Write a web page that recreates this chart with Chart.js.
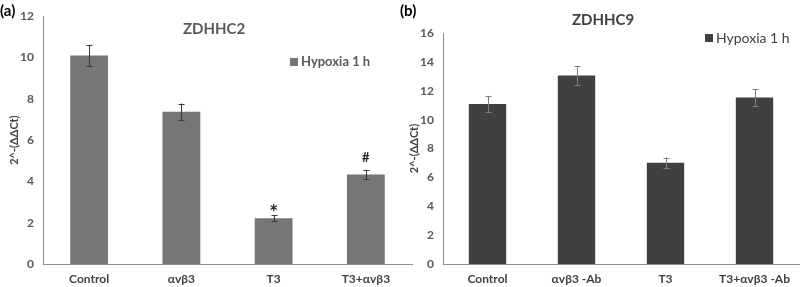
<!DOCTYPE html>
<html>
<head>
<meta charset="utf-8">
<script src="https://cdn.jsdelivr.net/npm/chart.js@4.4.1/dist/chart.umd.min.js"></script>
<style>
  html, body { margin: 0; padding: 0; background: #fff; }
  body { width: 800px; height: 287px; position: relative; overflow: hidden; }
  .panel { position: absolute; top: 0; height: 287px; }
  #wrapA { left: 0; width: 415px; }
  #wrapB { left: 400px; width: 400px; }
</style>
</head>
<body>
<div class="panel" id="wrapA"><canvas id="chartA"></canvas></div>
<div class="panel" id="wrapB"><canvas id="chartB"></canvas></div>
<script>
// Panel (a) data
const categoriesA = ['Control', 'αvβ3', 'T3', 'T3+αvβ3'];
const valuesA = [10.1, 7.37, 2.22, 4.33];
const errorsA = [0.52, 0.4, 0.14, 0.23];
const marksA = ['', '', '*', '#'];
const ticksA = [0, 2, 4, 6, 8, 10, 12];

// Panel (b) data
const categoriesB = ['Control', 'αvβ3 -Ab', 'T3', 'T3+αvβ3 -Ab'];
const valuesB = [11.08, 13.06, 7.01, 11.53];
const errorsB = [0.57, 0.66, 0.36, 0.6];
const marksB = ['', '', '', ''];
const ticksB = [0, 2, 4, 6, 8, 10, 12, 14, 16];

const FONT = 'Lato, "Open Sans", sans-serif';

// error bars, significance marks, title, legend and panel letter
const extrasPlugin = {
    id: 'extras',
    afterDatasetsDraw(chart, args, opts) {
        const ctx = chart.ctx;
        const yScale = chart.scales.y;
        const meta = chart.getDatasetMeta(0);
        const ds = chart.data.datasets[0];
        ctx.save();
        ctx.strokeStyle = opts.errColor;
        ctx.lineWidth = 1;
        meta.data.forEach((bar, i) => {
            const v = ds.data[i];
            const e = opts.errors[i];
            const top = yScale.getPixelForValue(v + e);
            const bot = yScale.getPixelForValue(v - e);
            const x = Math.round(bar.x) + 0.5;
            ctx.beginPath();
            ctx.moveTo(x, top);
            ctx.lineTo(x, bot);
            ctx.moveTo(x - 3, Math.round(top) + 0.5);
            ctx.lineTo(x + 3, Math.round(top) + 0.5);
            ctx.moveTo(x - 3, Math.round(bot) + 0.5);
            ctx.lineTo(x + 3, Math.round(bot) + 0.5);
            ctx.stroke();
            const m = opts.marks[i];
            if (m) {
                ctx.fillStyle = '#262626';
                ctx.font = (m === '*' ? 'bold 21px ' : 'bold 13px ') + FONT;
                ctx.textAlign = 'center';
                ctx.textBaseline = 'alphabetic';
                ctx.fillText(m, bar.x, top - (m === '*' ? -5 : 8));
            }
        });

        // title
        ctx.fillStyle = opts.titleColor;
        ctx.font = 'bold 15px ' + FONT;
        ctx.textAlign = 'center';
        ctx.textBaseline = 'middle';
        ctx.fillText(opts.title, opts.titleX, opts.titleY);

        // legend
        ctx.fillStyle = ds.backgroundColor;
        ctx.fillRect(opts.legX, opts.legY - 4, 8, 8);
        ctx.fillStyle = opts.legColor;
        ctx.font = opts.legFont;
        ctx.textAlign = 'left';
        ctx.fillText(ds.label, opts.legX + 11, opts.legY);

        // panel letter
        ctx.fillStyle = '#000';
        ctx.font = 'bold 15px ' + FONT;
        ctx.fillText(opts.letter, opts.letterX, 11);
        ctx.restore();
    }
};

function makeChart(id, cats, vals, ticks, color, maxY, pad, barPct, extras) {
    return new Chart(document.getElementById(id), {
        type: 'bar',
        data: {
            labels: cats,
            datasets: [{
                label: 'Hypoxia 1 h',
                data: vals,
                backgroundColor: color,
                borderWidth: 0,
                categoryPercentage: 1,
                barPercentage: barPct
            }]
        },
        options: {
            responsive: true,
            maintainAspectRatio: false,
            animation: false,
            layout: { padding: pad },
            plugins: {
                legend: { display: false },
                tooltip: { enabled: false },
                extras: extras
            },
            scales: {
                x: {
                    grid: { display: false, drawTicks: false },
                    border: { color: '#8c8c8c', width: 1 },
                    ticks: {
                        color: '#404040',
                        font: { family: FONT, size: 12, weight: 'bold' },
                        padding: 8,
                        maxRotation: 0
                    },
                    afterFit: s => { s.height = 23; }
                },
                y: {
                    min: 0,
                    max: maxY,
                    afterBuildTicks: s => { s.ticks = ticks.map(v => ({ value: v })); },
                    grid: { display: false, drawTicks: false },
                    border: { color: '#8c8c8c', width: 1 },
                    ticks: {
                        color: '#595959',
                        font: { family: FONT, size: 12, weight: 'bold' },
                        padding: 9
                    },
                    title: {
                        display: true,
                        text: '2^-(ΔΔCt)',
                        color: '#404040',
                        font: { family: FONT, size: 11, weight: 'bold' },
                        padding: { top: 8, bottom: 0 }
                    },
                    afterFit: s => { s.width = 43; }
                }
            }
        },
        plugins: [extrasPlugin]
    });
}

makeChart('chartA', categoriesA, valuesA, ticksA, '#767676', 12,
    { left: 0, top: 12, right: 3, bottom: 0 }, 0.41, {
        errors: errorsA, marks: marksA, errColor: '#3a3a3a',
        title: 'ZDHHC2', titleX: 214, titleY: 29, titleColor: '#595959',
        legX: 290, legY: 62, legColor: '#595959', legFont: 'bold 13px ' + FONT,
        letter: '(a)', letterX: 0
    });

makeChart('chartB', categoriesB, valuesB, ticksB, '#404040', 16,
    { left: 0, top: 33, right: 1, bottom: 0 }, 0.42, {
        errors: errorsB, marks: marksB, errColor: '#7f7f7f',
        title: 'ZDHHC9', titleX: 203, titleY: 20, titleColor: '#404040',
        legX: 305, legY: 38, legColor: '#404040', legFont: '14px ' + FONT,
        letter: '(b)', letterX: 0
    });
</script>
</body>
</html>
